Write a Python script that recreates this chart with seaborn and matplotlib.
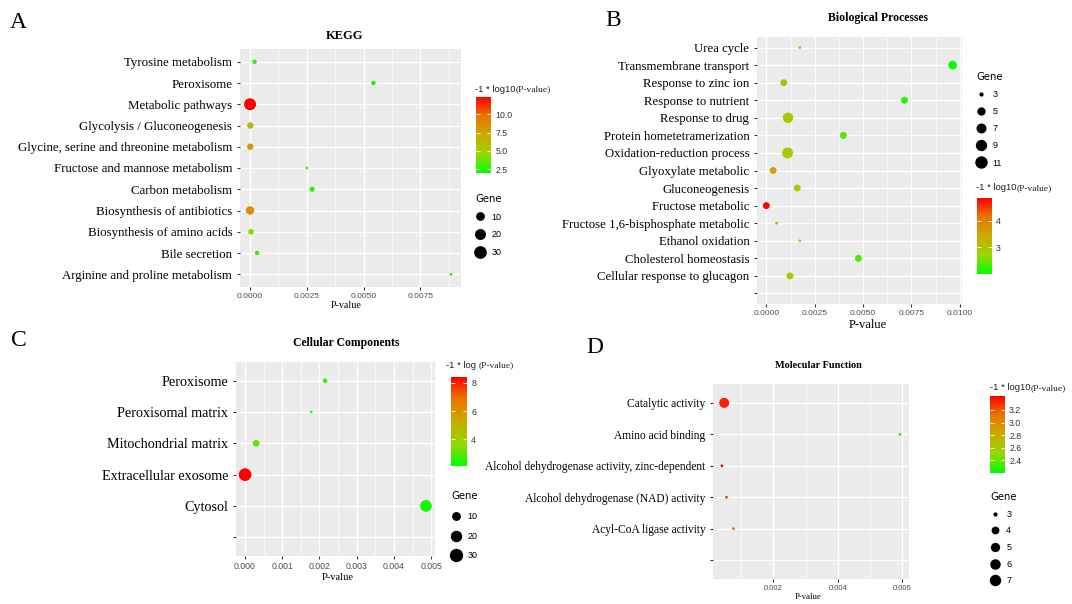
import numpy as np
import pandas as pd
import matplotlib
matplotlib.use("Agg")
import matplotlib.pyplot as plt
import seaborn as sns
from matplotlib.colors import LinearSegmentedColormap, Normalize
from matplotlib.cm import ScalarMappable
from matplotlib.lines import Line2D
from matplotlib.ticker import FixedLocator, FixedFormatter

W, H = 1072, 604
SERIF = "Liberation Serif"
SANS = "Liberation Sans"

# ---- A: KEGG (terms listed top -> bottom)
kegg_terms = ["Tyrosine metabolism", "Peroxisome", "Metabolic pathways",
              "Glycolysis / Gluconeogenesis", "Glycine, serine and threonine metabolism",
              "Fructose and mannose metabolism", "Carbon metabolism",
              "Biosynthesis of antibiotics", "Biosynthesis of amino acids",
              "Bile secretion", "Arginine and proline metabolism"]
kegg_p = [0.00021, 0.00543, 0.00001, 0.00002, 0.00002, 0.00251, 0.00274,
          0.00001, 0.00005, 0.00032, 0.00884]
kegg_genes = [3, 3, 35, 7, 7, 2, 4, 14, 5, 3, 2]
kegg_logp = [2.8, 2.3, 12.4, 6.1, 8.2, 2.6, 2.6, 8.6, 4.4, 3.0, 2.05]

# ---- B: Biological Processes
bp_terms = ["Urea cycle", "Transmembrane transport", "Response to zinc ion",
            "Response to nutrient", "Response to drug", "Protein hometetramerization",
            "Oxidation-reduction process", "Glyoxylate metabolic", "Gluconeogenesis",
            "Fructose metabolic", "Fructose 1,6-bisphosphate metabolic",
            "Ethanol oxidation", "Cholesterol homeostasis", "Cellular response to glucagon"]
bp_p = [0.00173, 0.00963, 0.00090, 0.00714, 0.00112, 0.00398, 0.00110,
        0.00035, 0.00160, 0.00000, 0.00053, 0.00173, 0.00476, 0.00122]
bp_genes = [3, 7, 5, 5, 10, 5, 11, 5, 5, 5, 3, 3, 5, 5]
bp_logp = [2.80, 2.02, 3.00, 2.15, 2.95, 2.40, 2.96, 3.55, 2.85, 4.86,
           3.40, 2.80, 2.32, 2.90]

# ---- C: Cellular Components
cc_terms = ["Peroxisome", "Peroxisomal matrix", "Mitochondrial matrix",
            "Extracellular exosome", "Cytosol"]
cc_p = [0.00215, 0.00178, 0.00030, 0.00000, 0.00486]
cc_genes = [4, 3, 8, 35, 29]
cc_logp = [2.67, 2.75, 3.10, 8.42, 2.31]

# ---- D: Molecular Function
mf_terms = ["Catalytic activity", "Amino acid binding",
            "Alcohol dehydrogenase activity, zinc-dependent",
            "Alcohol dehydrogenase (NAD) activity", "Acyl-CoA ligase activity"]
mf_p = [0.000476, 0.00593, 0.000405, 0.000547, 0.000764]
mf_genes = [7, 3, 3, 3, 3]
mf_logp = [3.33, 2.23, 3.40, 3.27, 3.13]

# green -> red gradient interpolated like ggplot (Lab)
cmap = LinearSegmentedColormap.from_list(
    "gg", ["#00FF00", "#98D700", "#C9AB00", "#E87700", "#FF0000"])

fig = plt.figure(figsize=(W / 100, H / 100), dpi=100)


def box(x0, y0, x1, y1):
    return [x0 / W, 1 - y1 / H, (x1 - x0) / W, (y1 - y0) / H]


def gg_size(g, lo, hi, dmax, dmin=2.8):
    # ggplot scale_size: diameter grows with sqrt of rescaled value
    t = max((g - lo) / (hi - lo), 0)
    d = (dmin + (dmax - dmin) * np.sqrt(t)) * 0.72
    return d ** 2


def panel(rect, terms, p, genes, logp, hue_lim, size_lim, dmax, xticks, fmt,
          ylab_size, xtick_size, blank=True):
    ax = fig.add_axes(box(*rect))
    ax.set_facecolor("#EBEBEB")
    cats = terms[::-1]
    if blank:
        cats = [" "] + cats
    ax.yaxis.update_units(np.array(cats))
    df = pd.DataFrame({"term": terms, "p": p, "gene": genes, "logp": logp})
    levels = sorted(set(genes))
    sizes = {g: gg_size(g, size_lim[0], size_lim[1], dmax) for g in levels}
    sns.scatterplot(data=df, x="p", y="term", hue="logp", size="gene",
                    palette=cmap, hue_norm=hue_lim, sizes=sizes,
                    legend=False, linewidth=0, ax=ax, zorder=3)
    lo, hi = min(p), max(p)
    pad = (hi - lo) * 0.05
    ax.set_xlim(lo - pad, hi + pad)
    ax.set_ylim(-0.6, len(cats) - 0.4)
    step = xticks[1] - xticks[0]
    minor = [t - step / 2 for t in xticks] + [xticks[-1] + step / 2]
    ax.xaxis.set_major_locator(FixedLocator(xticks))
    ax.xaxis.set_major_formatter(FixedFormatter([fmt % t for t in xticks]))
    ax.xaxis.set_minor_locator(FixedLocator(minor))
    ax.grid(which="major", color="white", lw=1.0, zorder=0)
    ax.grid(which="minor", axis="x", color="white", lw=0.5, zorder=0)
    ax.set_axisbelow(True)
    for s in ax.spines.values():
        s.set_visible(False)
    ax.tick_params(axis="x", which="major", length=2.5, color="#333333",
                   labelcolor="#4D4D4D", labelsize=xtick_size, pad=1.5)
    ax.tick_params(axis="x", which="minor", length=0)
    ax.tick_params(axis="y", length=2.5, color="#333333", pad=3)
    for lab in ax.get_yticklabels():
        lab.set_fontfamily(SERIF)
        lab.set_fontsize(ylab_size)
        lab.set_color("black")
    for lab in ax.get_xticklabels():
        lab.set_fontfamily(SANS)
    ax.set_xlabel("")
    ax.set_ylabel("")
    return ax


def colorbar(rect, hue_lim, ticks, fmt, title_xy, title_a, title_b):
    cax = fig.add_axes(box(*rect))
    sm = ScalarMappable(norm=Normalize(*hue_lim), cmap=cmap)
    cb = fig.colorbar(sm, cax=cax)
    cb.outline.set_visible(False)
    cb.set_ticks(ticks)
    cb.set_ticklabels([fmt % t for t in ticks])
    cax.yaxis.set_ticks_position("both")
    cax.tick_params(direction="in", color="white", length=3, width=0.6,
                    labelleft=False, labelright=True, labelsize=6.3,
                    labelcolor="#333333", pad=3)
    for lab in cax.get_yticklabels():
        lab.set_fontfamily(SANS)
    t1 = fig.text(title_xy[0] / W, 1 - title_xy[1] / H, title_a, family=SANS,
                  fontsize=6.8, va="center", ha="left", color="#222222")
    ann = plt.annotate(title_b, xy=(1, 0.5), xycoords=t1, va="center",
                       ha="left", fontsize=6.8, family=SERIF, color="#222222",
                       annotation_clip=False)
    ann.set_figure(fig)


def size_legend(xy, breaks, lo, hi, dmax, spacing):
    handles = [Line2D([], [], ls="", marker="o", color="black",
                      markersize=np.sqrt(gg_size(b, lo, hi, dmax)))
               for b in breaks]
    fig.legend(handles, [str(b) for b in breaks], title="Gene",
               loc="upper left", bbox_to_anchor=(xy[0] / W, 1 - xy[1] / H),
               frameon=False, title_fontsize=7.3,
               labelspacing=spacing, handletextpad=0.6, handlelength=1.2,
               borderpad=0, borderaxespad=0, alignment="left",
               prop={"family": SANS, "size": 6.5})


# ---- draw panels
axA = panel((240, 49, 461, 287), kegg_terms, kegg_p, kegg_genes, kegg_logp,
            (1.95, 12.4), (2, 35), 12, [0, 0.0025, 0.005, 0.0075], "%.4f", 9.3, 6,
            blank=False)
axB = panel((757, 37, 962, 304), bp_terms, bp_p, bp_genes, bp_logp,
            (1.98, 4.86), (3, 11), 11, [0, 0.0025, 0.005, 0.0075, 0.01], "%.4f", 9.2, 6)
axC = panel((236, 362, 435, 556), cc_terms, cc_p, cc_genes, cc_logp,
            (2.11, 8.42), (3, 35), 12.7,
            [0, 0.001, 0.002, 0.003, 0.004, 0.005], "%.3f", 10.2, 6.3)
axD = panel((713, 384, 909, 579), mf_terms, mf_p, mf_genes, mf_logp,
            (2.20, 3.42), (3, 7), 10, [0.002, 0.004, 0.006], "%.3f", 8.3, 5.5)

# titles, panel letters, axis labels
for txt, x, y, fs in [("KEGG", 345, 36, 9), ("Biological Processes", 878, 18, 8.5),
                      ("Cellular Components", 346, 343, 8.4),
                      ("Molecular Function", 818, 366, 7.4)]:
    fig.text(x / W, 1 - y / H, txt, family=SERIF, weight="bold", fontsize=fs,
             ha="center", va="center")
for txt, x, y in [("A", 18, 22), ("B", 613, 20), ("C", 19, 340), ("D", 595, 348)]:
    fig.text(x / W, 1 - y / H, txt, family=SERIF, fontsize=17, ha="center",
             va="center")
for x, y, fs in [(346, 306, 7.2), (868, 325, 9), (338, 578, 7.6), (808, 597, 6.2)]:
    fig.text(x / W, 1 - y / H, "P-value", family=SERIF, fontsize=fs,
             ha="center", va="center")

# legends
colorbar((476, 97, 491, 173), (1.95, 12.4), [2.5, 5.0, 7.5, 10.0], "%.1f",
         (475, 89), "-1 * log10", "(P-value)")
size_legend((475, 194), [10, 20, 30], 2, 35, 12, 0.95)

size_legend((976, 72), [3, 5, 7, 9, 11], 3, 11, 11, 0.9)
colorbar((977, 198, 992, 274), (1.98, 4.86), [3, 4], "%d",
         (976, 188), "-1 * log10", "(P-value)")

colorbar((451, 377, 467, 466), (2.11, 8.42), [4, 6, 8], "%d",
         (446, 365), "-1 * log ", "(P-value)")
size_legend((451, 491), [10, 20, 30], 3, 35, 12.7, 1.2)

colorbar((990, 396, 1005, 473), (2.20, 3.42), [2.4, 2.6, 2.8, 3.0, 3.2], "%.1f",
         (990, 388), "-1 * log10", "(P-value)")
size_legend((990, 492), [3, 4, 5, 6, 7], 3, 7, 10, 0.85)

fig.savefig("out.png", dpi=100, facecolor="white")
